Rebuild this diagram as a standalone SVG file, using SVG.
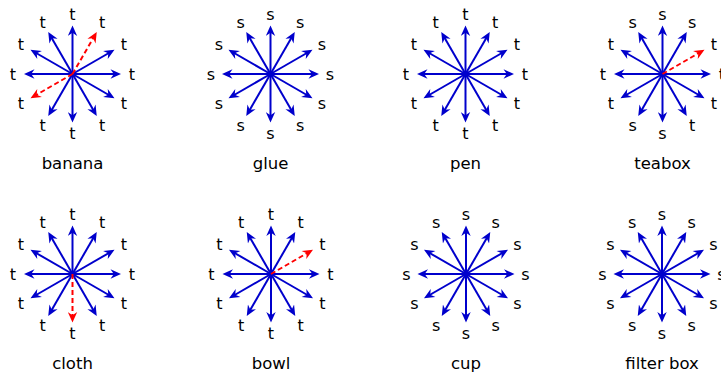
<svg xmlns="http://www.w3.org/2000/svg" xmlns:xlink="http://www.w3.org/1999/xlink" width="721" height="374" viewBox="0 0 721 374">
<style>
text{font-family:"DejaVu Sans","Liberation Sans",sans-serif;fill:#000}
.l{font-size:16px;text-anchor:middle;dominant-baseline:central}
.ti{font-size:16.5px;text-anchor:middle}
.b{stroke:#0000cc;stroke-width:2;fill:none;marker-end:url(#hb)}
.r{stroke:#ff0000;stroke-width:2;fill:none;stroke-dasharray:5 3;marker-end:url(#hr)}
</style>
<defs>
<marker id="hb" viewBox="-5 -5 12 10" markerWidth="12" markerHeight="10" refX="0" refY="0" orient="auto" markerUnits="userSpaceOnUse"><path d="M6,0 L-4.5,-4.7 L-1.2,0 L-4.5,4.7 Z" fill="#0000cc"/></marker>
<marker id="hr" viewBox="-5 -5 12 10" markerWidth="12" markerHeight="10" refX="0" refY="0" orient="auto" markerUnits="userSpaceOnUse"><path d="M6,0 L-4.5,-4.7 L-1.2,0 L-4.5,4.7 Z" fill="#ff0000"/></marker>
<line id="ar" x1="0" y1="0" x2="42.5" y2="0"/>
<g id="blue12">
<use xlink:href="#ar" href="#ar" class="b" transform="rotate(0)"/>
<use xlink:href="#ar" href="#ar" class="b" transform="rotate(-30)"/>
<use xlink:href="#ar" href="#ar" class="b" transform="rotate(-60)"/>
<use xlink:href="#ar" href="#ar" class="b" transform="rotate(-90)"/>
<use xlink:href="#ar" href="#ar" class="b" transform="rotate(-120)"/>
<use xlink:href="#ar" href="#ar" class="b" transform="rotate(-150)"/>
<use xlink:href="#ar" href="#ar" class="b" transform="rotate(-180)"/>
<use xlink:href="#ar" href="#ar" class="b" transform="rotate(-210)"/>
<use xlink:href="#ar" href="#ar" class="b" transform="rotate(-240)"/>
<use xlink:href="#ar" href="#ar" class="b" transform="rotate(-270)"/>
<use xlink:href="#ar" href="#ar" class="b" transform="rotate(-300)"/>
<use xlink:href="#ar" href="#ar" class="b" transform="rotate(-330)"/>
</g>
</defs>

<g id="banana" transform="translate(72.5,74)">
<use xlink:href="#ar" href="#ar" class="b" transform="rotate(0)"/>
<use xlink:href="#ar" href="#ar" class="b" transform="rotate(-30)"/>
<use xlink:href="#ar" href="#ar" class="b" transform="rotate(-90)"/>
<use xlink:href="#ar" href="#ar" class="b" transform="rotate(-120)"/>
<use xlink:href="#ar" href="#ar" class="b" transform="rotate(-150)"/>
<use xlink:href="#ar" href="#ar" class="b" transform="rotate(-180)"/>
<use xlink:href="#ar" href="#ar" class="b" transform="rotate(-240)"/>
<use xlink:href="#ar" href="#ar" class="b" transform="rotate(-270)"/>
<use xlink:href="#ar" href="#ar" class="b" transform="rotate(-300)"/>
<use xlink:href="#ar" href="#ar" class="b" transform="rotate(-330)"/>
<use xlink:href="#ar" href="#ar" class="r" transform="rotate(-60)"/>
<use xlink:href="#ar" href="#ar" class="r" transform="rotate(-210)"/>
<text class="l" x="59.5" y="0">t</text><text class="l" x="51.5" y="-29.75">t</text><text class="l" x="29.75" y="-51.5">t</text><text class="l" x="0" y="-59.5">t</text><text class="l" x="-29.75" y="-51.5">t</text><text class="l" x="-51.5" y="-29.75">t</text><text class="l" x="-59.5" y="0">t</text><text class="l" x="-51.5" y="29.75">t</text><text class="l" x="-29.75" y="51.5">t</text><text class="l" x="0" y="59.5">t</text><text class="l" x="29.75" y="51.5">t</text><text class="l" x="51.5" y="29.75">t</text>
<text class="ti" x="0" y="94.5">banana</text>
</g>

<g id="glue" transform="translate(270.5,74)">
<use xlink:href="#blue12" href="#blue12"/>
<text class="l" x="59.5" y="0">s</text><text class="l" x="51.5" y="-29.75">s</text><text class="l" x="29.75" y="-51.5">s</text><text class="l" x="0" y="-59.5">s</text><text class="l" x="-29.75" y="-51.5">s</text><text class="l" x="-51.5" y="-29.75">s</text><text class="l" x="-59.5" y="0">s</text><text class="l" x="-51.5" y="29.75">s</text><text class="l" x="-29.75" y="51.5">s</text><text class="l" x="0" y="59.5">s</text><text class="l" x="29.75" y="51.5">s</text><text class="l" x="51.5" y="29.75">s</text>
<text class="ti" x="0" y="94.5">glue</text>
</g>

<g id="pen" transform="translate(465.5,74)">
<use xlink:href="#blue12" href="#blue12"/>
<text class="l" x="59.5" y="0">t</text><text class="l" x="51.5" y="-29.75">t</text><text class="l" x="29.75" y="-51.5">t</text><text class="l" x="0" y="-59.5">t</text><text class="l" x="-29.75" y="-51.5">t</text><text class="l" x="-51.5" y="-29.75">t</text><text class="l" x="-59.5" y="0">t</text><text class="l" x="-51.5" y="29.75">t</text><text class="l" x="-29.75" y="51.5">t</text><text class="l" x="0" y="59.5">t</text><text class="l" x="29.75" y="51.5">t</text><text class="l" x="51.5" y="29.75">t</text>
<text class="ti" x="0" y="94.5">pen</text>
</g>

<g id="teabox" transform="translate(662.5,74)">
<use xlink:href="#ar" href="#ar" class="b" transform="rotate(0)"/>
<use xlink:href="#ar" href="#ar" class="b" transform="rotate(-60)"/>
<use xlink:href="#ar" href="#ar" class="b" transform="rotate(-90)"/>
<use xlink:href="#ar" href="#ar" class="b" transform="rotate(-120)"/>
<use xlink:href="#ar" href="#ar" class="b" transform="rotate(-150)"/>
<use xlink:href="#ar" href="#ar" class="b" transform="rotate(-180)"/>
<use xlink:href="#ar" href="#ar" class="b" transform="rotate(-210)"/>
<use xlink:href="#ar" href="#ar" class="b" transform="rotate(-240)"/>
<use xlink:href="#ar" href="#ar" class="b" transform="rotate(-270)"/>
<use xlink:href="#ar" href="#ar" class="b" transform="rotate(-300)"/>
<use xlink:href="#ar" href="#ar" class="b" transform="rotate(-330)"/>
<use xlink:href="#ar" href="#ar" class="r" transform="rotate(-30)"/>
<text class="l" x="59.5" y="0">t</text><text class="l" x="51.5" y="-29.75">t</text><text class="l" x="29.75" y="-51.5">s</text><text class="l" x="0" y="-59.5">s</text><text class="l" x="-29.75" y="-51.5">s</text><text class="l" x="-51.5" y="-29.75">t</text><text class="l" x="-59.5" y="0">t</text><text class="l" x="-51.5" y="29.75">t</text><text class="l" x="-29.75" y="51.5">s</text><text class="l" x="0" y="59.5">s</text><text class="l" x="29.75" y="51.5">t</text><text class="l" x="51.5" y="29.75">t</text>
<text class="ti" x="0" y="94.5">teabox</text>
</g>

<g id="cloth" transform="translate(72.5,274)">
<use xlink:href="#ar" href="#ar" class="b" transform="rotate(0)"/>
<use xlink:href="#ar" href="#ar" class="b" transform="rotate(-30)"/>
<use xlink:href="#ar" href="#ar" class="b" transform="rotate(-60)"/>
<use xlink:href="#ar" href="#ar" class="b" transform="rotate(-90)"/>
<use xlink:href="#ar" href="#ar" class="b" transform="rotate(-120)"/>
<use xlink:href="#ar" href="#ar" class="b" transform="rotate(-150)"/>
<use xlink:href="#ar" href="#ar" class="b" transform="rotate(-180)"/>
<use xlink:href="#ar" href="#ar" class="b" transform="rotate(-210)"/>
<use xlink:href="#ar" href="#ar" class="b" transform="rotate(-240)"/>
<use xlink:href="#ar" href="#ar" class="b" transform="rotate(-300)"/>
<use xlink:href="#ar" href="#ar" class="b" transform="rotate(-330)"/>
<use xlink:href="#ar" href="#ar" class="r" transform="rotate(-270)"/>
<text class="l" x="59.5" y="0">t</text><text class="l" x="51.5" y="-29.75">t</text><text class="l" x="29.75" y="-51.5">t</text><text class="l" x="0" y="-59.5">t</text><text class="l" x="-29.75" y="-51.5">t</text><text class="l" x="-51.5" y="-29.75">t</text><text class="l" x="-59.5" y="0">t</text><text class="l" x="-51.5" y="29.75">t</text><text class="l" x="-29.75" y="51.5">t</text><text class="l" x="0" y="59.5">t</text><text class="l" x="29.75" y="51.5">t</text><text class="l" x="51.5" y="29.75">t</text>
<text class="ti" x="0" y="95">cloth</text>
</g>

<g id="bowl" transform="translate(271,274)">
<use xlink:href="#ar" href="#ar" class="b" transform="rotate(0)"/>
<use xlink:href="#ar" href="#ar" class="b" transform="rotate(-60)"/>
<use xlink:href="#ar" href="#ar" class="b" transform="rotate(-90)"/>
<use xlink:href="#ar" href="#ar" class="b" transform="rotate(-120)"/>
<use xlink:href="#ar" href="#ar" class="b" transform="rotate(-150)"/>
<use xlink:href="#ar" href="#ar" class="b" transform="rotate(-180)"/>
<use xlink:href="#ar" href="#ar" class="b" transform="rotate(-210)"/>
<use xlink:href="#ar" href="#ar" class="b" transform="rotate(-240)"/>
<use xlink:href="#ar" href="#ar" class="b" transform="rotate(-270)"/>
<use xlink:href="#ar" href="#ar" class="b" transform="rotate(-300)"/>
<use xlink:href="#ar" href="#ar" class="b" transform="rotate(-330)"/>
<use xlink:href="#ar" href="#ar" class="r" transform="rotate(-30)"/>
<text class="l" x="59.5" y="0">t</text><text class="l" x="51.5" y="-29.75">t</text><text class="l" x="29.75" y="-51.5">t</text><text class="l" x="0" y="-59.5">t</text><text class="l" x="-29.75" y="-51.5">t</text><text class="l" x="-51.5" y="-29.75">t</text><text class="l" x="-59.5" y="0">t</text><text class="l" x="-51.5" y="29.75">t</text><text class="l" x="-29.75" y="51.5">t</text><text class="l" x="0" y="59.5">t</text><text class="l" x="29.75" y="51.5">t</text><text class="l" x="51.5" y="29.75">t</text>
<text class="ti" x="0" y="95">bowl</text>
</g>

<g id="cup" transform="translate(466,274)">
<use xlink:href="#blue12" href="#blue12"/>
<text class="l" x="59.5" y="0">s</text><text class="l" x="51.5" y="-29.75">s</text><text class="l" x="29.75" y="-51.5">s</text><text class="l" x="0" y="-59.5">s</text><text class="l" x="-29.75" y="-51.5">s</text><text class="l" x="-51.5" y="-29.75">s</text><text class="l" x="-59.5" y="0">s</text><text class="l" x="-51.5" y="29.75">s</text><text class="l" x="-29.75" y="51.5">s</text><text class="l" x="0" y="59.5">s</text><text class="l" x="29.75" y="51.5">s</text><text class="l" x="51.5" y="29.75">s</text>
<text class="ti" x="0" y="95">cup</text>
</g>

<g id="filter-box" transform="translate(662,274)">
<use xlink:href="#blue12" href="#blue12"/>
<text class="l" x="59.5" y="0">s</text><text class="l" x="51.5" y="-29.75">s</text><text class="l" x="29.75" y="-51.5">s</text><text class="l" x="0" y="-59.5">s</text><text class="l" x="-29.75" y="-51.5">s</text><text class="l" x="-51.5" y="-29.75">s</text><text class="l" x="-59.5" y="0">s</text><text class="l" x="-51.5" y="29.75">s</text><text class="l" x="-29.75" y="51.5">s</text><text class="l" x="0" y="59.5">s</text><text class="l" x="29.75" y="51.5">s</text><text class="l" x="51.5" y="29.75">s</text>
<text class="ti" x="0" y="95">filter box</text>
</g>
</svg>
